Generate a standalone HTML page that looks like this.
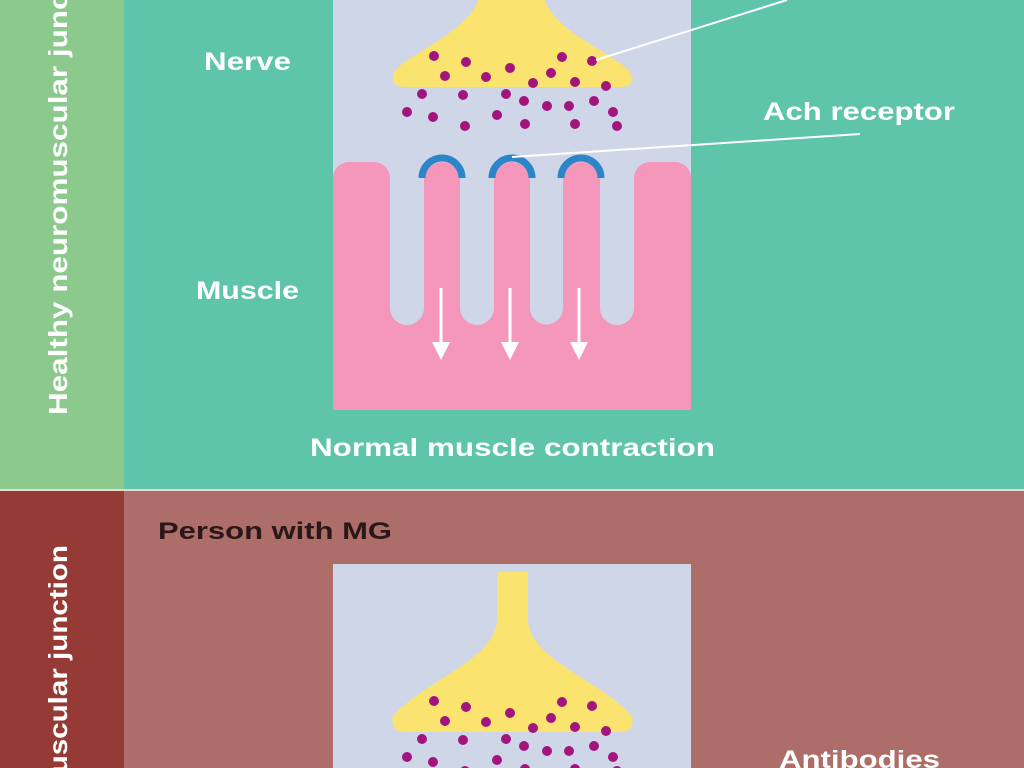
<!DOCTYPE html>
<html><head><meta charset="utf-8"><style>html,body{margin:0;padding:0;width:1024px;height:768px;overflow:hidden;}svg{display:block}</style></head>
<body>
<svg width="1024" height="768" viewBox="0 0 1024 768" xmlns="http://www.w3.org/2000/svg" font-family="Liberation Sans, sans-serif" font-weight="bold">
<defs>
<g id="dots" fill="#a3157e">
<circle cx="434" cy="56" r="5"/><circle cx="466" cy="62" r="5"/><circle cx="445" cy="76" r="5"/><circle cx="486" cy="77" r="5"/><circle cx="510" cy="68" r="5"/><circle cx="562" cy="57" r="5"/><circle cx="592" cy="61" r="5"/><circle cx="551" cy="73" r="5"/><circle cx="533" cy="83" r="5"/><circle cx="575" cy="82" r="5"/><circle cx="606" cy="86" r="5"/><circle cx="422" cy="94" r="5"/><circle cx="463" cy="95" r="5"/><circle cx="506" cy="94" r="5"/><circle cx="524" cy="101" r="5"/><circle cx="547" cy="106" r="5"/><circle cx="569" cy="106" r="5"/><circle cx="594" cy="101" r="5"/><circle cx="407" cy="112" r="5"/><circle cx="433" cy="117" r="5"/><circle cx="497" cy="115" r="5"/><circle cx="465" cy="126" r="5"/><circle cx="525" cy="124" r="5"/><circle cx="575" cy="124" r="5"/><circle cx="613" cy="112" r="5"/><circle cx="617" cy="126" r="5"/>
</g>
</defs>
<rect x="0" y="0" width="124" height="489" fill="#8bca8c"/>
<rect x="124" y="0" width="900" height="489" fill="#5ec5aa"/>
<rect x="0" y="489" width="1024" height="2" fill="#e8d8d0"/>
<rect x="0" y="491" width="124" height="277" fill="#963a36"/>
<rect x="124" y="491" width="900" height="277" fill="#ad6d69"/>

<rect x="333" y="0" width="358" height="410" fill="#cfd6e8"/>
<path d="M480,-10 C480,30 400,55 393,75 Q391,87 405,87 L620,87 Q634,87 632,75 C622,55 543,30 543,-10 Z" fill="#fbe36f"/>
<use href="#dots"/>

<rect x="333" y="300" width="358" height="110" fill="#f497bb"/>
<rect x="333" y="162" width="57" height="248" rx="16" fill="#f497bb"/>
<rect x="634" y="162" width="57" height="248" rx="16" fill="#f497bb"/>
<rect x="333" y="190" width="20" height="220" fill="#f497bb"/>
<rect x="671" y="190" width="20" height="220" fill="#f497bb"/>
<rect x="424" y="162" width="36" height="248" rx="18" fill="#f497bb"/>
<rect x="494" y="162" width="36" height="248" rx="18" fill="#f497bb"/>
<rect x="563" y="162" width="37" height="248" rx="18" fill="#f497bb"/>
<g fill="#cfd6e8">
<rect x="390" y="190" width="34" height="118"/><circle cx="407" cy="308" r="17"/>
<rect x="460" y="190" width="34" height="118"/><circle cx="477" cy="308" r="17"/>
<rect x="530" y="190" width="33" height="118"/><circle cx="546.5" cy="308" r="16.5"/>
<rect x="600" y="190" width="34" height="118"/><circle cx="617" cy="308" r="17"/>
</g>
<g fill="none" stroke="#2a86c8" stroke-width="7">
<path d="M422,178 A20,20 0 0 1 462,178"/>
<path d="M492,178 A20,20 0 0 1 532,178"/>
<path d="M561,178 A20,20 0 0 1 601,178"/>
</g>
<g stroke="#fff" stroke-width="3" fill="#fff">
<line x1="441" y1="288" x2="441" y2="345"/><path d="M432,342 L450,342 L441,360 Z" stroke="none"/>
<line x1="510" y1="288" x2="510" y2="345"/><path d="M501,342 L519,342 L510,360 Z" stroke="none"/>
<line x1="579" y1="288" x2="579" y2="345"/><path d="M570,342 L588,342 L579,360 Z" stroke="none"/>
</g>
<g stroke="#fff" stroke-width="2">
<line x1="596" y1="60" x2="787" y2="0"/>
<line x1="512" y1="157" x2="860" y2="134"/>
</g>
<g fill="#fff" font-size="25">
<text x="204" y="70" textLength="87" lengthAdjust="spacingAndGlyphs">Nerve</text>
<text x="763" y="120" textLength="192" lengthAdjust="spacingAndGlyphs">Ach receptor</text>
<text x="196" y="299" textLength="103" lengthAdjust="spacingAndGlyphs">Muscle</text>
<text x="310" y="456" textLength="405" lengthAdjust="spacingAndGlyphs">Normal muscle contraction</text>
<text transform="translate(67,415) rotate(-90)" font-size="26" textLength="480" lengthAdjust="spacingAndGlyphs">Healthy neuromuscular junction</text>
<text transform="translate(67,545) rotate(-90)" font-size="26" text-anchor="end" textLength="340" lengthAdjust="spacingAndGlyphs">Neuromuscular junction</text>
</g>
<text x="158" y="539" font-size="24" fill="#2a1818" textLength="234" lengthAdjust="spacingAndGlyphs">Person with MG</text>

<rect x="333" y="564" width="358" height="204" fill="#cfd6e8"/>
<path d="M497,572 L528,572 L528,620 C530,660 600,680 632,716 Q635,732 620,732 L405,732 Q390,732 393,716 C425,680 495,660 497,620 Z" fill="#fbe36f"/>
<use href="#dots" transform="translate(0,645)"/>
<text x="779" y="768" font-size="25" fill="#fff" textLength="161" lengthAdjust="spacingAndGlyphs">Antibodies</text>
</svg>
</body></html>
